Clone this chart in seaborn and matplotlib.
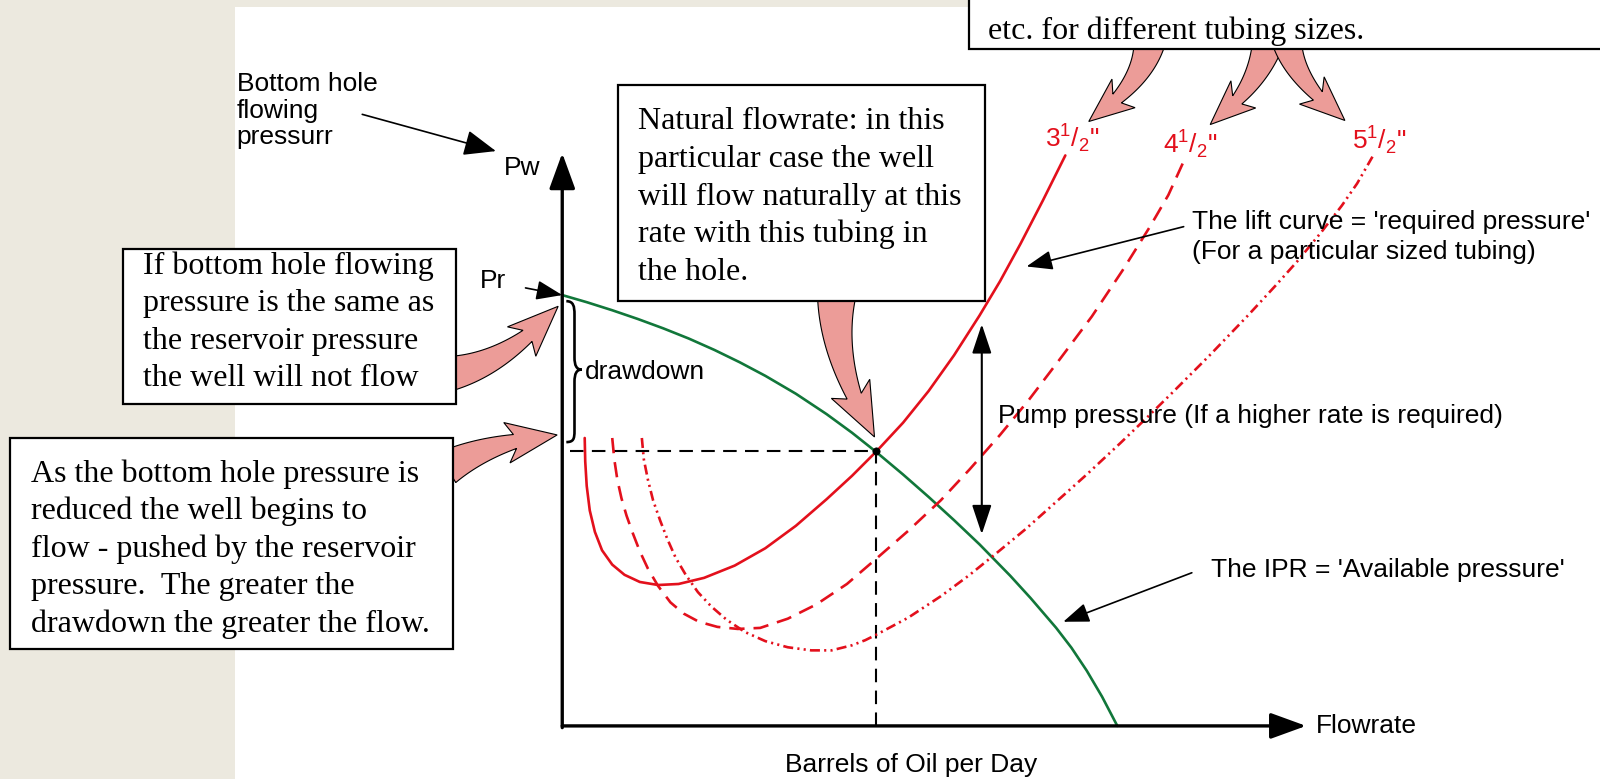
import numpy as np
import pandas as pd
import matplotlib
matplotlib.use("Agg")
import matplotlib.pyplot as plt
import seaborn as sns
from matplotlib.patches import Rectangle, Polygon, PathPatch
from matplotlib.path import Path

# Datos (escala arbitraria 0-100)
ipr_rate = [0, 3.29, 6.72, 10.15, 13.58, 17.01, 20.44, 23.87, 27.30, 31.41, 35.53, 38.96,
            42.11, 45.82, 49.25, 52.67, 56.10, 60.22, 62.96, 66.39, 68.45, 70.51, 72.57, 74.62]
ipr_pw = [75.22, 73.98, 72.57, 71.05, 69.41, 67.63, 65.65, 63.48, 61.12, 57.99, 54.44, 51.18,
          47.93, 43.89, 39.98, 35.92, 31.69, 26.22, 22.32, 17.13, 13.65, 9.64, 5.10, 0]

lift35_rate = [3.02, 3.09, 3.29, 3.70, 4.39, 5.35, 6.72, 8.37, 10.43, 12.89, 15.64, 19.07,
               23.18, 27.30, 31.41, 35.53, 38.96, 42.25, 45.82, 49.25, 52.67, 56.10, 58.85,
               61.59, 64.61, 67.63]
lift35_pw = [50.27, 46.17, 41.89, 37.61, 33.87, 30.66, 28.16, 26.38, 25.13, 24.60, 24.78, 25.85,
             27.99, 31.02, 34.94, 39.57, 43.67, 47.95, 52.94, 58.47, 64.71, 71.66, 77.63,
             84.14, 91.73, 99.60]

lift45_rate = [6.72, 7.00, 7.41, 7.96, 8.64, 9.47, 10.43, 11.52, 12.89, 14.54, 16.32, 18.38,
               20.85, 23.59, 26.61, 30.32, 34.16, 38.27, 42.25, 46.50, 50.89, 54.73, 58.85,
               62.69, 67.08, 71.19, 75.31, 79.01, 81.48, 83.54]
lift45_pw = [50.27, 46.52, 42.96, 39.75, 36.72, 33.69, 30.48, 27.45, 24.42, 21.57, 19.61, 18.18,
             17.29, 16.93, 17.11, 18.72, 21.21, 24.78, 29.23, 34.05, 39.39, 44.74, 50.80,
             56.86, 64.35, 71.48, 79.50, 87.17, 92.69, 98.57]

lift55_rate = [10.70, 10.97, 11.52, 12.21, 13.17, 14.13, 15.23, 16.60, 18.24, 20.03, 22.09,
               24.55, 27.30, 30.32, 33.47, 36.21, 38.96, 40.74, 42.39, 46.50, 50.89, 54.73,
               58.57, 62.28, 66.39, 70.51, 75.03, 78.74, 81.89, 86.97, 92.18, 95.88, 98.77,
               102.06, 104.80, 106.86, 108.92]
lift55_pw = [50.27, 46.52, 42.96, 39.39, 35.83, 32.62, 29.41, 26.38, 23.35, 20.86, 18.54,
             16.40, 14.80, 13.73, 13.19, 13.19, 14.08, 14.97, 16.04, 18.89, 22.64, 26.33,
             30.37, 34.35, 39.11, 43.90, 49.38, 54.01, 58.02, 64.62, 71.66, 76.86, 81.05,
             86.24, 90.84, 94.71, 99.38]

tubing_labels = [r'3$^{\mathregular{1}}$/$_{\mathregular{2}}$"',
                 r'4$^{\mathregular{1}}$/$_{\mathregular{2}}$"',
                 r'5$^{\mathregular{1}}$/$_{\mathregular{2}}$"']

natural_rate = 42.2
natural_pw = 48.0
pump_rate = 56.4

box1_lines = ["If bottom hole flowing", "pressure is the same as",
              "the reservoir pressure", "the well will not flow"]
box2_lines = ["As the bottom hole pressure is", "reduced the well begins to",
              "flow - pushed by the reservoir", "pressure.  The greater the",
              "drawdown the greater the flow."]
box3_lines = ["Natural flowrate: in this", "particular case the well",
              "will flow naturally at this", "rate with this tubing in", "the hole."]
top_lines = ["etc. for different tubing sizes."]

RED = "#e3101c"
GREEN = "#11773a"
PINK = "#ec9c98"
BEIGE = "#ece9df"
SANS = 19
SERIF = 23

sns.set_theme(style="white")
plt.rcParams["font.family"] = ["Liberation Sans", "DejaVu Sans"]
plt.rcParams["text.color"] = "black"
plt.rcParams["mathtext.fontset"] = "custom"
plt.rcParams["mathtext.rm"] = "Liberation Sans"

W, H = 1568, 763  # pixeles de la imagen de referencia


def fx(x):
    return x / W


def fy(y):
    return 1 - y / H


fig = plt.figure(figsize=(16, 7.79), dpi=100)
fig.patch.set_facecolor("white")

# fondo beige
fig.add_artist(Rectangle((0, 0), fx(230), 1, transform=fig.transFigure,
                         fc=BEIGE, ec="none", zorder=-5))
fig.add_artist(Rectangle((fx(230), fy(7)), fx(720), 7 / H, transform=fig.transFigure,
                         fc=BEIGE, ec="none", zorder=-5))

ax = fig.add_axes([fx(551), fy(711), 729 / W, 561 / H])
ax.patch.set_alpha(0)

# curvas
common = dict(ax=ax, lw=1.9, sort=False, estimator=None, clip_on=False, zorder=3)
sns.lineplot(x=ipr_rate, y=ipr_pw, color=GREEN, **common)
sns.lineplot(x=lift35_rate, y=lift35_pw, color=RED, **common)
sns.lineplot(x=lift45_rate, y=lift45_pw, color=RED, linestyle=(0, (5.8, 3.4)), **common)
sns.lineplot(x=lift55_rate, y=lift55_pw, color=RED,
             linestyle=(0, (3.8, 1.6, 0.8, 1.6, 0.8, 1.6)), **common)

ax.set_xlim(0, 100)
ax.set_ylim(0, 100)
ax.axis("off")

# ejes con flechas
axis_arrow = dict(arrowstyle="-|>,head_length=1.1,head_width=0.4", lw=2.4,
                  color="black", mutation_scale=20, shrinkA=0, shrinkB=0)
ax.annotate("", xy=(100, 0), xytext=(0, 0), arrowprops=axis_arrow, zorder=4)
ax.annotate("", xy=(0, 100), xytext=(0, -0.3), arrowprops=axis_arrow, zorder=4)

# punto de flujo natural y lineas guia
ax.hlines(natural_pw, 1.0, natural_rate, colors="black", lw=1.5,
          linestyles=(0, (6.5, 4)), zorder=2)
ax.vlines(natural_rate, 0, natural_pw, colors="black", lw=1.5,
          linestyles=(0, (6.5, 4)), zorder=2)
sns.scatterplot(x=[natural_rate], y=[natural_pw], ax=ax, color="black", s=28,
                zorder=5, clip_on=False, edgecolor="black")

# presion de bomba
red_at_pump = np.interp(pump_rate, lift35_rate, lift35_pw)
ipr_at_pump = np.interp(pump_rate, ipr_rate, ipr_pw)
ax.annotate("", xy=(pump_rate, red_at_pump), xytext=(pump_rate, ipr_at_pump),
            arrowprops=dict(arrowstyle="<|-|>,head_length=0.9,head_width=0.3",
                            lw=1.5, color="black", mutation_scale=20,
                            shrinkA=9, shrinkB=9))

# etiquetas de tuberia
for lab, r, p in zip(tubing_labels, [lift35_rate, lift45_rate, lift55_rate],
                     [lift35_pw, lift45_pw, lift55_pw]):
    ax.annotate(lab, xy=(r[-1], p[-1]), xytext=(5, 15), textcoords="offset points",
                ha="center", va="center_baseline", color=RED, fontsize=SANS,
                annotation_clip=False)

# flechas negras finas
thin = dict(arrowstyle="-|>,head_length=0.8,head_width=0.3", lw=1.2, color="black",
            mutation_scale=20, shrinkA=0, shrinkB=0)
ax.annotate("", xy=(0, ipr_pw[0]), xytext=(fx(515), fy(282)),
            textcoords="figure fraction", arrowprops=thin)
ax.annotate("", xy=(fx(486), fy(148)), xycoords="figure fraction",
            xytext=(fx(355), fy(112)), textcoords="figure fraction",
            arrowprops=dict(thin, arrowstyle="-|>,head_length=1.0,head_width=0.4"))
ax.annotate("", xy=(fx(1006), fy(261)), xycoords="figure fraction",
            xytext=(fx(1160), fy(222)), textcoords="figure fraction", arrowprops=thin)
ax.annotate("", xy=(fx(1042), fy(609)), xycoords="figure fraction",
            xytext=(fx(1168), fy(561)), textcoords="figure fraction", arrowprops=thin)


# flechas rosadas curvas
def pink_arrow(p0, p1, p2, w0, w1, head_w, head_l, notch=8):
    P0, P1, P2 = (np.array(p, dtype=float) for p in (p0, p1, p2))
    t = np.linspace(0, 1, 300)[:, None]
    pts = (1 - t) ** 2 * P0 + 2 * (1 - t) * t * P1 + t ** 2 * P2
    s = np.concatenate([[0], np.cumsum(np.hypot(*np.diff(pts, axis=0).T))])
    k = np.searchsorted(s, s[-1] - head_l)
    shaft = pts[:k + 1]
    tang = np.gradient(shaft, axis=0)
    tang /= np.linalg.norm(tang, axis=1)[:, None]
    nrm = np.column_stack([-tang[:, 1], tang[:, 0]])
    w = np.linspace(w0, w1, len(shaft))[:, None] / 2
    left = shaft + nrm * w
    right = shaft - nrm * w
    base = shaft[-1]
    d = (P2 - base) / np.linalg.norm(P2 - base)
    n = np.array([-d[1], d[0]])
    barb_l = base - d * notch + n * head_w / 2
    barb_r = base - d * notch - n * head_w / 2
    poly = np.vstack([left, [barb_l, P2, barb_r], right[::-1]])
    poly = np.column_stack([fx(poly[:, 0]), fy(poly[:, 1])])
    fig.add_artist(Polygon(poly, closed=True, transform=fig.transFigure, fc=PINK,
                           ec="black", lw=0.8, zorder=6))


pink_arrow((440, 366), (497, 356), (547, 300), 34, 14, 40, 42)
pink_arrow((438, 458), (482, 432), (546, 426), 34, 14, 40, 42)
pink_arrow((820, 288), (814, 354), (857, 428), 38, 15, 42, 45)
pink_arrow((1126, 44), (1118, 84), (1067, 119), 30, 12, 36, 36)
pink_arrow((1242, 44), (1230, 89), (1186, 122), 30, 12, 36, 36)
pink_arrow((1262, 44), (1271, 81), (1318, 118), 28, 12, 36, 36)


# cajas de texto
def text_box(x0, y0, x1, y1, lines, tx, ty, step=36.8):
    fig.add_artist(Rectangle((fx(x0), fy(y1)), (x1 - x0) / W, (y1 - y0) / H,
                             transform=fig.transFigure, fc="white", ec="black",
                             lw=1.6, zorder=8))
    for i, line in enumerate(lines):
        fig.text(fx(tx), fy(ty + i * step), line, ha="left", va="center_baseline",
                 fontsize=SERIF, family=["Liberation Serif", "DejaVu Serif"],
                 color="black", zorder=9)


text_box(121, 244, 447, 396, box1_lines, 140, 257)
text_box(10, 429, 444, 636, box2_lines, 30, 461)
text_box(606, 83, 965, 295, box3_lines, 625, 116)
text_box(950, -10, 1600, 48, top_lines, 968, 27)

# llave de drawdown
brace = [(555, 295), (562, 295), (563, 300), (563, 308), (563, 350),
         (563, 358), (565, 362), (570, 362), (565, 362), (563, 366), (563, 374),
         (563, 422), (563, 430), (562, 433), (555, 433)]
codes = [Path.MOVETO, Path.CURVE4, Path.CURVE4, Path.CURVE4, Path.LINETO,
         Path.CURVE4, Path.CURVE4, Path.CURVE4, Path.CURVE4, Path.CURVE4, Path.CURVE4,
         Path.LINETO, Path.CURVE4, Path.CURVE4, Path.CURVE4]
brace_path = Path([(fx(x), fy(y)) for x, y in brace], codes)
fig.add_artist(PathPatch(brace_path, transform=fig.transFigure, fc="none",
                         ec="black", lw=1.9, zorder=5))

# textos sueltos
labels = [
    ("Bottom hole", 232, 80), ("flowing", 232, 106), ("pressurr", 232, 132),
    ("Pw", 494, 162), ("Pr", 470, 273), ("drawdown", 573, 362),
    ("Pump pressure (If a higher rate is required)", 978, 405),
    ("The lift curve = 'required pressure'", 1168, 215),
    ("(For a particular sized tubing)", 1168, 244),
    ("The IPR = 'Available pressure'", 1187, 556),
    ("Flowrate", 1290, 709),
]
for s, x, y in labels:
    fig.text(fx(x), fy(y), s, ha="left", va="center_baseline", fontsize=SANS,
             color="black", zorder=7)
fig.text(fx(893), fy(747), "Barrels of Oil per Day", ha="center", va="center_baseline",
         fontsize=SANS, color="black", zorder=7)

fig.savefig("out.png", dpi=100)
